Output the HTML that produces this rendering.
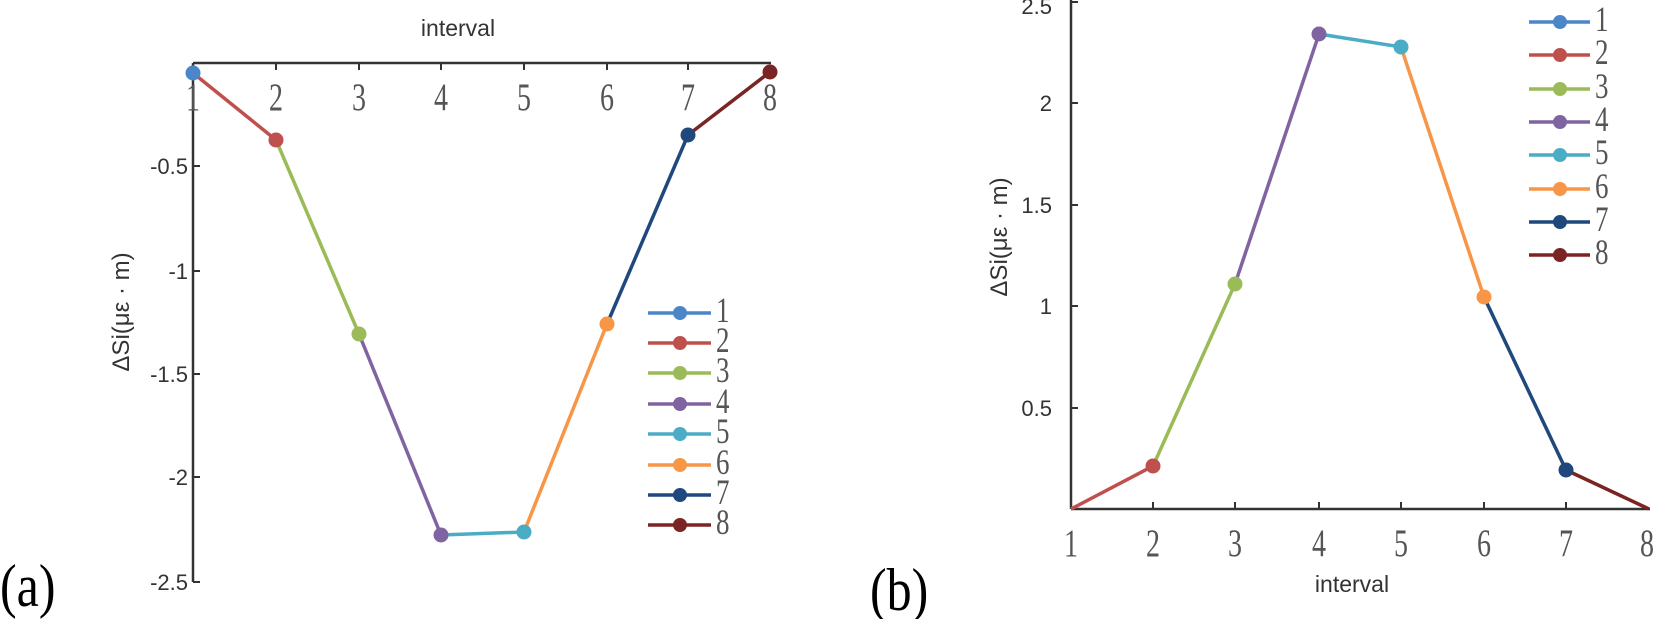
<!DOCTYPE html>
<html><head><meta charset="utf-8"><style>
html,body{margin:0;padding:0;background:#fff;}
svg{display:block}
.s{font-family:"Liberation Sans",sans-serif;fill:#333}
.r{font-family:"Liberation Serif",serif;fill:#555}
</style></head><body>
<svg width="1654" height="619" viewBox="0 0 1654 619" xmlns="http://www.w3.org/2000/svg">
<!-- Panel A -->
<text class="s" x="458" y="36" font-size="23" text-anchor="middle">interval</text>
<g stroke="#333" stroke-width="2.5">
<line x1="193" y1="63" x2="771" y2="63"/>
<line x1="193" y1="63" x2="193" y2="582"/>
</g>
<g stroke="#333" stroke-width="2">
<line x1="276" y1="63" x2="276" y2="70"/><line x1="359" y1="63" x2="359" y2="70"/>
<line x1="441" y1="63" x2="441" y2="70"/><line x1="524" y1="63" x2="524" y2="70"/>
<line x1="607" y1="63" x2="607" y2="70"/><line x1="688" y1="63" x2="688" y2="70"/>
<line x1="193" y1="166" x2="200" y2="166"/><line x1="193" y1="271" x2="200" y2="271"/>
<line x1="193" y1="374" x2="200" y2="374"/><line x1="193" y1="477" x2="200" y2="477"/>
<line x1="193" y1="582" x2="200" y2="582"/>
</g>
<g class="r" font-size="28" text-anchor="middle" transform="translate(0,110) scale(1,1.4) translate(0,-110)">
<text x="193" y="110">1</text><text x="276" y="110">2</text><text x="359" y="110">3</text><text x="441" y="110">4</text>
<text x="524" y="110">5</text><text x="607" y="110">6</text><text x="688" y="110">7</text><text x="770" y="110">8</text>
</g>
<g class="s" font-size="22" text-anchor="end">
<text x="188" y="174">-0.5</text><text x="188" y="279">-1</text><text x="188" y="382">-1.5</text>
<text x="188" y="485">-2</text><text x="188" y="590">-2.5</text>
</g>
<text class="s" font-size="24" text-anchor="middle" transform="translate(129,312) rotate(-90)">ΔSi(με · m)</text>
<g stroke-width="3.5" fill="none">
<line x1="193" y1="73" x2="276" y2="140" stroke="#c0504d"/>
<line x1="276" y1="140" x2="359" y2="334" stroke="#9bbb59"/>
<line x1="359" y1="334" x2="441" y2="535" stroke="#8064a2"/>
<line x1="441" y1="535" x2="524" y2="532" stroke="#4bacc6"/>
<line x1="524" y1="532" x2="607" y2="324" stroke="#f79646"/>
<line x1="607" y1="324" x2="688" y2="135" stroke="#1f497d"/>
<line x1="688" y1="135" x2="770" y2="72" stroke="#7b2424"/>
</g>
<g>
<circle cx="193" cy="73" r="7.5" fill="#4a86c8"/><circle cx="276" cy="140" r="7.5" fill="#c0504d"/>
<circle cx="359" cy="334" r="7.5" fill="#9bbb59"/><circle cx="441" cy="535" r="7.5" fill="#8064a2"/>
<circle cx="524" cy="532" r="7.5" fill="#4bacc6"/><circle cx="607" cy="324" r="7.5" fill="#f79646"/>
<circle cx="688" cy="135" r="7.5" fill="#1f497d"/><circle cx="770" cy="72" r="7.5" fill="#7b2424"/>
</g>
<g stroke-width="3.5">
<line x1="648" y1="313" x2="711" y2="313" stroke="#4a86c8"/><circle cx="680" cy="313" r="7" fill="#4a86c8"/>
<line x1="648" y1="343" x2="711" y2="343" stroke="#c0504d"/><circle cx="680" cy="343" r="7" fill="#c0504d"/>
<line x1="648" y1="373" x2="711" y2="373" stroke="#9bbb59"/><circle cx="680" cy="373" r="7" fill="#9bbb59"/>
<line x1="648" y1="404" x2="711" y2="404" stroke="#8064a2"/><circle cx="680" cy="404" r="7" fill="#8064a2"/>
<line x1="648" y1="434" x2="711" y2="434" stroke="#4bacc6"/><circle cx="680" cy="434" r="7" fill="#4bacc6"/>
<line x1="648" y1="465" x2="711" y2="465" stroke="#f79646"/><circle cx="680" cy="465" r="7" fill="#f79646"/>
<line x1="648" y1="495" x2="711" y2="495" stroke="#1f497d"/><circle cx="680" cy="495" r="7" fill="#1f497d"/>
<line x1="648" y1="525" x2="711" y2="525" stroke="#7b2424"/><circle cx="680" cy="525" r="7" fill="#7b2424"/>
</g>
<g class="r" font-size="27">
<text x="716" y="322" transform="translate(0,322) scale(1,1.35) translate(0,-322)">1</text>
<text x="716" y="352" transform="translate(0,352) scale(1,1.35) translate(0,-352)">2</text>
<text x="716" y="382" transform="translate(0,382) scale(1,1.35) translate(0,-382)">3</text>
<text x="716" y="413" transform="translate(0,413) scale(1,1.35) translate(0,-413)">4</text>
<text x="716" y="443" transform="translate(0,443) scale(1,1.35) translate(0,-443)">5</text>
<text x="716" y="474" transform="translate(0,474) scale(1,1.35) translate(0,-474)">6</text>
<text x="716" y="504" transform="translate(0,504) scale(1,1.35) translate(0,-504)">7</text>
<text x="716" y="534" transform="translate(0,534) scale(1,1.35) translate(0,-534)">8</text>
</g>
<text x="0" y="606" font-family="Liberation Serif,serif" font-size="50" fill="#000" transform="translate(0,606) scale(1,1.2) translate(0,-606)">(a)</text>

<!-- Panel B -->
<g stroke="#333" stroke-width="2.5">
<line x1="1071" y1="0" x2="1071" y2="509"/>
<line x1="1071" y1="509" x2="1650" y2="509"/>
</g>
<g stroke="#333" stroke-width="2">
<line x1="1153" y1="509" x2="1153" y2="502"/><line x1="1235" y1="509" x2="1235" y2="502"/>
<line x1="1319" y1="509" x2="1319" y2="502"/><line x1="1401" y1="509" x2="1401" y2="502"/>
<line x1="1484" y1="509" x2="1484" y2="502"/><line x1="1566" y1="509" x2="1566" y2="502"/>
<line x1="1071" y1="2" x2="1078" y2="2"/><line x1="1071" y1="103" x2="1078" y2="103"/>
<line x1="1071" y1="205" x2="1078" y2="205"/><line x1="1071" y1="306" x2="1078" y2="306"/>
<line x1="1071" y1="408" x2="1078" y2="408"/>
</g>
<g class="r" font-size="28" text-anchor="middle" transform="translate(0,556) scale(1,1.4) translate(0,-556)">
<text x="1071" y="556">1</text><text x="1153" y="556">2</text><text x="1235" y="556">3</text><text x="1319" y="556">4</text>
<text x="1401" y="556">5</text><text x="1484" y="556">6</text><text x="1566" y="556">7</text><text x="1647" y="556">8</text>
</g>
<text class="s" x="1352" y="592" font-size="23" text-anchor="middle">interval</text>
<g class="s" font-size="22" text-anchor="end">
<text x="1052" y="14">2.5</text><text x="1052" y="111">2</text><text x="1052" y="213">1.5</text>
<text x="1052" y="314">1</text><text x="1052" y="416">0.5</text>
</g>
<text class="s" font-size="24" text-anchor="middle" transform="translate(1007,237) rotate(-90)">ΔSi(με · m)</text>
<g stroke-width="3.5" fill="none">
<line x1="1071" y1="509" x2="1153" y2="466" stroke="#c0504d"/>
<line x1="1153" y1="466" x2="1235" y2="284" stroke="#9bbb59"/>
<line x1="1235" y1="284" x2="1319" y2="34" stroke="#8064a2"/>
<line x1="1319" y1="34" x2="1401" y2="47" stroke="#4bacc6"/>
<line x1="1401" y1="47" x2="1484" y2="297" stroke="#f79646"/>
<line x1="1484" y1="297" x2="1566" y2="470" stroke="#1f497d"/>
<line x1="1566" y1="470" x2="1649" y2="509" stroke="#7b2424"/>
</g>
<g>
<circle cx="1153" cy="466" r="7.5" fill="#c0504d"/><circle cx="1235" cy="284" r="7.5" fill="#9bbb59"/>
<circle cx="1319" cy="34" r="7.5" fill="#8064a2"/><circle cx="1401" cy="47" r="7.5" fill="#4bacc6"/>
<circle cx="1484" cy="297" r="7.5" fill="#f79646"/><circle cx="1566" cy="470" r="7.5" fill="#1f497d"/>
</g>
<g stroke-width="3.5">
<line x1="1529" y1="22" x2="1590" y2="22" stroke="#4a86c8"/><circle cx="1560" cy="22" r="7" fill="#4a86c8"/>
<line x1="1529" y1="55" x2="1590" y2="55" stroke="#c0504d"/><circle cx="1560" cy="55" r="7" fill="#c0504d"/>
<line x1="1529" y1="89" x2="1590" y2="89" stroke="#9bbb59"/><circle cx="1560" cy="89" r="7" fill="#9bbb59"/>
<line x1="1529" y1="122" x2="1590" y2="122" stroke="#8064a2"/><circle cx="1560" cy="122" r="7" fill="#8064a2"/>
<line x1="1529" y1="155" x2="1590" y2="155" stroke="#4bacc6"/><circle cx="1560" cy="155" r="7" fill="#4bacc6"/>
<line x1="1529" y1="189" x2="1590" y2="189" stroke="#f79646"/><circle cx="1560" cy="189" r="7" fill="#f79646"/>
<line x1="1529" y1="222" x2="1590" y2="222" stroke="#1f497d"/><circle cx="1560" cy="222" r="7" fill="#1f497d"/>
<line x1="1529" y1="255" x2="1590" y2="255" stroke="#7b2424"/><circle cx="1560" cy="255" r="7" fill="#7b2424"/>
</g>
<g class="r" font-size="27">
<text x="1595" y="31" transform="translate(0,31) scale(1,1.35) translate(0,-31)">1</text>
<text x="1595" y="64" transform="translate(0,64) scale(1,1.35) translate(0,-64)">2</text>
<text x="1595" y="98" transform="translate(0,98) scale(1,1.35) translate(0,-98)">3</text>
<text x="1595" y="131" transform="translate(0,131) scale(1,1.35) translate(0,-131)">4</text>
<text x="1595" y="164" transform="translate(0,164) scale(1,1.35) translate(0,-164)">5</text>
<text x="1595" y="198" transform="translate(0,198) scale(1,1.35) translate(0,-198)">6</text>
<text x="1595" y="231" transform="translate(0,231) scale(1,1.35) translate(0,-231)">7</text>
<text x="1595" y="264" transform="translate(0,264) scale(1,1.35) translate(0,-264)">8</text>
</g>
<text x="870" y="610" font-family="Liberation Serif,serif" font-size="50" fill="#000" transform="translate(0,610) scale(1,1.2) translate(0,-610)">(b)</text>
</svg>
</body></html>
